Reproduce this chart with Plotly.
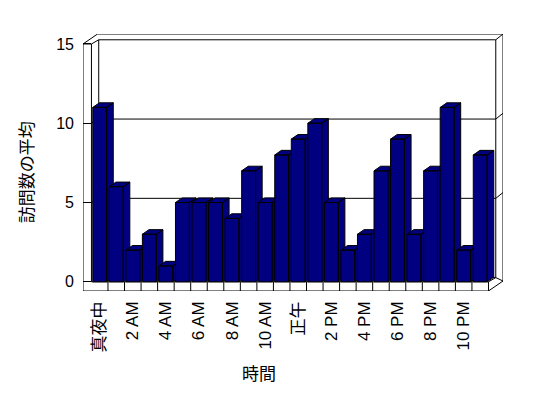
import plotly.graph_objects as go

# ---- data ----
hours = list(range(24))
avg_visits = [11, 6, 2, 3, 1, 5, 5, 5, 4, 7, 5, 8, 9, 10, 5, 2, 3, 7, 9, 3, 7, 11, 2, 8]
tick_positions = [0, 2, 4, 6, 8, 10, 12, 14, 16, 18, 20, 22]
tick_labels = ["真夜中", "2 AM", "4 AM", "6 AM", "8 AM", "10 AM", "正午",
               "2 PM", "4 PM", "6 PM", "8 PM", "10 PM"]
y_ticks = [0, 5, 10, 15]

# ---- 3D geometry (data units) ----
YMAX = 15
X0, X1 = -0.5, 23.5          # floor front edges
T = 0.58                     # floor thickness
W = 0.51                     # left wall thickness
DX, DY = 0.44, 0.265         # depth floor front -> back wall
TDX, TDY = 0.877, 0.63       # total depth incl. back wall thickness
BW = 0.42                    # half bar width
BDX, BDY = 0.40, 0.29        # bar depth

NAVY = "#000080"
fig = go.Figure()

for h, v in zip(hours, avg_visits):
    a, b = h - BW, h + BW
    xs = [a, b, b, a, a, None,
          b, b + BDX, b + BDX, b, b, None,
          a, b, b + BDX, a + BDX, a]
    ys = [0, 0, v, v, 0, None,
          0, BDY, v + BDY, v, 0, None,
          v, v, v + BDY, v + BDY, v]
    fig.add_trace(go.Scatter(x=xs, y=ys, mode="lines", fill="toself",
                             fillcolor=NAVY, line=dict(color="black", width=1),
                             hoverinfo="skip", showlegend=False))

shapes = []
def seg(x0, y0, x1, y1):
    shapes.append(dict(type="line", xref="x", yref="y", x0=x0, y0=y0, x1=x1, y1=y1,
                       line=dict(color="black", width=1), layer="below"))

# silhouette
seg(X0 - W, -T, X0 - W, YMAX)
seg(X0 - W, -T, X1, -T)
seg(X1, -T, X1 + TDX, -T + TDY)
seg(X1 + TDX, -T + TDY, X1 + TDX, YMAX + TDY)
seg(X1 + TDX, YMAX + TDY, X0 - W + TDX, YMAX + TDY)
seg(X0 - W + TDX, YMAX + TDY, X0 - W, YMAX)
# left wall
seg(X0 - W, YMAX, X0, YMAX)
seg(X0, YMAX, X0, 0)
seg(X0, YMAX, X0 + DX, YMAX + DY)
# back wall front face
seg(X0 + DX, YMAX + DY, X1 + DX, YMAX + DY)
seg(X1 + DX, YMAX + DY, X1 + DX, DY)
seg(X0 + DX, YMAX + DY, X0 + DX, DY)
seg(X1 + DX, YMAX + DY, X1 + TDX, YMAX + TDY)
# floor
seg(X0, 0, X1, 0)
seg(X1, 0, X1, -T)
seg(X1, 0, X1 + DX, DY)
seg(X0 + DX, DY, X1 + DX, DY)
seg(X1 + DX, DY, X1 + TDX, -T + TDY)
for k in range(1, 24):
    seg(k - 0.5, -T, k - 0.5, 0)
# gridlines on back wall
for v in y_ticks[1:-1]:
    seg(X0 + DX, v + DY, X1 + DX, v + DY)
    seg(X1 + DX, v + DY, X1 + TDX, v + TDY)
    seg(X0, v, X0 + DX, v + DY)

FONT = "Liberation Sans, Noto Sans CJK JP, sans-serif"
fig.update_layout(
    width=540, height=390,
    margin=dict(l=75, r=45, t=26, b=107, pad=0, autoexpand=False),
    paper_bgcolor="white", plot_bgcolor="white",
    font=dict(family=FONT, size=16, color="black"),
    shapes=shapes,
    xaxis=dict(range=[X0 - W, X1 + TDX], showgrid=False, zeroline=False, showline=False,
               tickmode="array", tickvals=tick_positions, ticktext=tick_labels,
               tickangle=-90, ticks="", ticklabelstandoff=6, automargin=False,
               tickfont=dict(size=17, family=FONT), fixedrange=True),
    yaxis=dict(range=[-T, YMAX + TDY], showgrid=False, zeroline=False, showline=False,
               tickmode="array", tickvals=y_ticks, ticks="inside", ticklen=8,
               tickcolor="black", tickwidth=1, ticklabelstandoff=8, automargin=False,
               tickfont=dict(size=16, family=FONT), fixedrange=True),
    annotations=[
        dict(text="訪問数の平均", xref="paper", yref="paper", x=-0.132, y=0.46,
             textangle=-90, showarrow=False, xanchor="center", yanchor="middle",
             font=dict(size=17, family=FONT)),
        dict(text="時間", xref="paper", yref="paper", x=0.418, y=-0.324,
             showarrow=False, xanchor="center", yanchor="middle",
             font=dict(size=17, family=FONT)),
    ],
)

fig.write_html("out.html")
